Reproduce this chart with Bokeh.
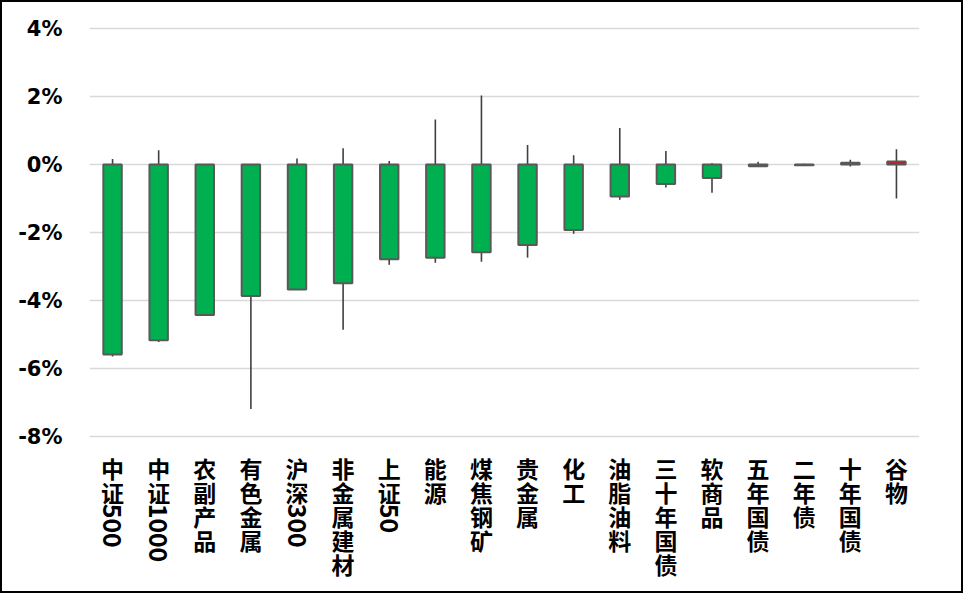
import math
from bokeh.plotting import figure
from bokeh.models import ColumnDataSource, FactorRange, Range1d, FixedTicker, CustomJSTickFormatter
from bokeh.core.properties import value
from bokeh.embed import file_html
from bokeh.resources import INLINE

# ---------------- data (percent) ----------------
categories = ["中证500", "中证1000", "农副产品", "有色金属", "沪深300", "非金属建材", "上证50",
              "能源", "煤焦钢矿", "贵金属", "化工", "油脂油料", "三十年国债", "软商品",
              "五年国债", "二年债", "十年国债", "谷物"]
open_vals = [0.0] * 18
close_vals = [-5.59, -5.17, -4.43, -3.87, -3.68, -3.49, -2.79, -2.74, -2.58, -2.37,
              -1.93, -0.94, -0.57, -0.40, -0.05, -0.02, 0.05, 0.09]
high_vals = [0.16, 0.42, 0.00, 0.00, 0.18, 0.48, 0.10, 1.32, 2.03, 0.57,
             0.27, 1.07, 0.40, 0.04, 0.08, 0.02, 0.14, 0.45]
low_vals = [-5.65, -5.22, -4.43, -7.19, -3.68, -4.86, -2.95, -2.89, -2.86, -2.74,
            -2.04, -1.04, -0.68, -0.83, -0.06, -0.03, -0.06, -1.00]
y_ticks = [-8, -6, -4, -2, 0, 2, 4]

# ---------------- styling ----------------
UP = "#FF0000"
DOWN = "#00B050"
PX_PER_UNIT = 34.0
W, H = 963, 593
B_LEFT, B_RIGHT, B_TOP, B_BOTTOM = 87, 46, 24, 8
frame_h = H - B_TOP - B_BOTTOM
y_end = max(y_ticks) + 2.0 / PX_PER_UNIT
y_start = y_end - frame_h / PX_PER_UNIT

p = figure(width=W, height=H, output_backend="svg", toolbar_location=None,
           x_range=FactorRange(*categories), y_range=Range1d(y_start, y_end),
           min_border_left=B_LEFT, min_border_right=B_RIGHT,
           min_border_top=B_TOP, min_border_bottom=B_BOTTOM)
p.outline_line_color = None
p.background_fill_color = "white"
p.border_fill_color = "white"
p.styles = {"border": "2px solid #000000", "box-sizing": "border-box"}

p.xaxis.visible = False
p.xgrid.visible = False
p.ygrid.ticker = FixedTicker(ticks=y_ticks)
p.ygrid.grid_line_color = "#D9D9D9"
p.ygrid.grid_line_width = 1.5

ax = p.yaxis[0]
ax.ticker = FixedTicker(ticks=y_ticks)
ax.formatter = CustomJSTickFormatter(code="return tick.toFixed(0) + '%';")
ax.axis_line_color = None
ax.major_tick_line_color = None
ax.minor_tick_line_color = None
ax.major_tick_out = 0
ax.major_tick_in = 0
ax.major_label_standoff = 27
ax.major_label_text_font = "DejaVu Sans"
ax.major_label_text_font_style = "bold"
ax.major_label_text_font_size = "21px"
ax.major_label_text_color = "#000000"

# ---------------- candles ----------------
tops = [max(o, c) for o, c in zip(open_vals, close_vals)]
bots = [min(o, c) for o, c in zip(open_vals, close_vals)]
fills = [UP if c > o else DOWN for o, c in zip(open_vals, close_vals)]
src = ColumnDataSource(dict(x=categories, top=tops, bottom=bots, fill=fills,
                            high=high_vals, low=low_vals))
p.segment(x0="x", y0="low", x1="x", y1="high", source=src,
          line_color="#404040", line_width=1.6)
p.vbar(x="x", top="top", bottom="bottom", width=0.4, source=src,
       fill_color="fill", line_color="#595959", line_width=2)

# ---------------- vertical category labels ----------------
anchor = min(y_ticks)
CJK_ADV, DIG_ADV = 24.0, 14.5
cx, cy, coff, ctext = [], [], [], []
dx, dy, doff, dtext = [], [], [], []
for cat in categories:
    cur = 19.5
    for ch in cat:
        if ch.isascii():
            dx.append(cat); dy.append(anchor); doff.append(cur + DIG_ADV / 2); dtext.append(ch)
            cur += DIG_ADV
        else:
            cx.append(cat); cy.append(anchor); coff.append(cur + CJK_ADV / 2); ctext.append(ch)
            cur += CJK_ADV

p.text(x="x", y="y", text="t", y_offset="off",
       source=ColumnDataSource(dict(x=cx, y=cy, off=coff, t=ctext)),
       text_font=value("Noto Sans CJK SC"), text_font_style="bold",
       text_font_size="23px", text_color="#000000",
       text_align="center", text_baseline="middle")
p.text(x="x", y="y", text="t", y_offset="off", angle=-math.pi / 2,
       source=ColumnDataSource(dict(x=dx, y=dy, off=doff, t=dtext)),
       text_font=value("Noto Sans CJK SC"), text_font_style="bold",
       text_font_size="25px", text_color="#000000",
       text_align="center", text_baseline="middle")

open("out.html", "w").write(file_html(p, INLINE))
